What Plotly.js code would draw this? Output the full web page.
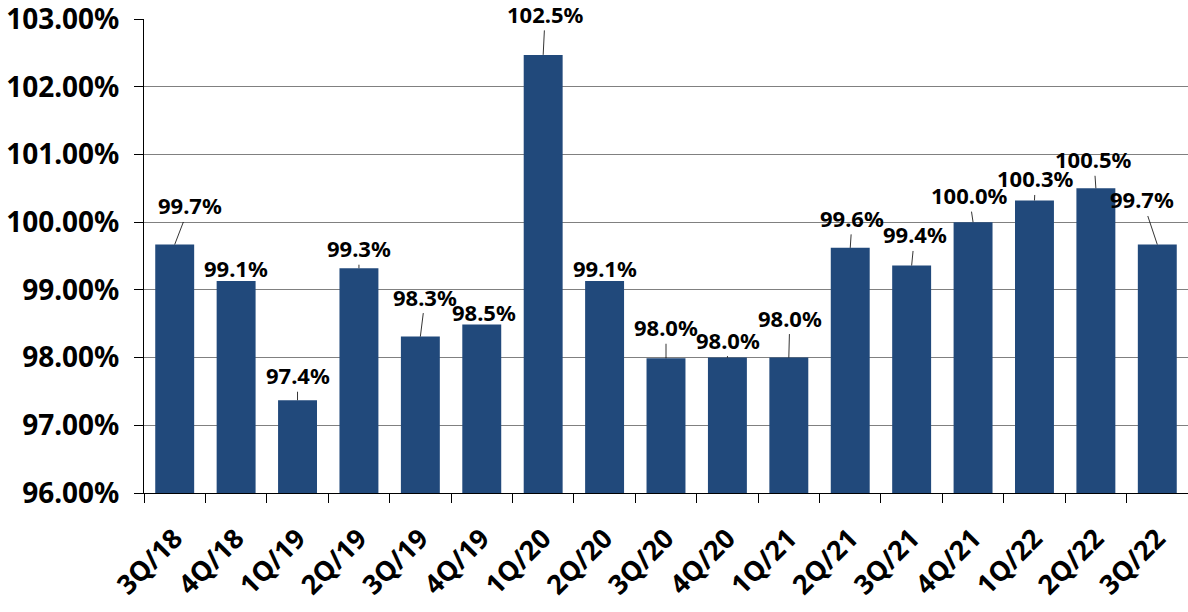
<!DOCTYPE html>
<html>
<head>
<meta charset="utf-8">
<script src="https://cdn.plot.ly/plotly-3.0.1.min.js"></script>
<style>
  html, body { margin: 0; padding: 0; background: #fff; }
  #chart { width: 1188px; height: 612px; }
</style>
</head>
<body>
<div id="chart"></div>
<script>
// quarters and ratio values (%)
var quarters = ['3Q/18', '4Q/18', '1Q/19', '2Q/19', '3Q/19', '4Q/19', '1Q/20', '2Q/20', '3Q/20',
                '4Q/20', '1Q/21', '2Q/21', '3Q/21', '4Q/21', '1Q/22', '2Q/22', '3Q/22'];
var ratios = [99.67, 99.13, 97.37, 99.32, 98.31, 98.49, 102.47, 99.13, 97.99,
              98.00, 98.00, 99.62, 99.36, 100.00, 100.32, 100.50, 99.67];

// label offsets (px) from the bar top, like the excel leader lines
var labelDx = [15, 0, 0, 0, 5, 2, 2, 0, 0, 1, 1, 2, 3, -4, 1, -2, -15];
var labelDy = [-39, -13, -25, -20, -40, -12, -41, -13, -31, -18, -40, -30, -31, -27, -22, -29, -45];

var fnt = 'Noto Sans, DejaVu Sans, sans-serif';

var data = [{
  x: quarters,
  y: ratios,
  type: 'bar',
  marker: {color: '#21497B'},
  hoverinfo: 'x+y'
}];

var notes = [];
for (var i = 0; i < quarters.length; i++) {
  notes.push({
    x: quarters[i],
    y: ratios[i],
    text: ratios[i].toFixed(1) + '%',
    showarrow: true,
    arrowhead: 0,
    arrowwidth: 0.8,
    arrowcolor: '#000',
    ax: labelDx[i],
    ay: labelDy[i],
    font: {family: fnt, size: 22, color: '#000', weight: 'bold'}
  });
}

var layout = {
  width: 1188,
  height: 612,
  margin: {l: 144, r: 0, t: 19, b: 119},
  paper_bgcolor: '#fff',
  plot_bgcolor: '#fff',
  bargap: 0.366,
  showlegend: false,
  font: {family: fnt, color: '#000'},
  xaxis: {
    type: 'category',
    showline: true,
    linecolor: '#000',
    linewidth: 1,
    ticks: 'outside',
    tickson: 'boundaries',
    ticklen: 9,
    tickcolor: '#000',
    tickangle: -45,
    ticklabelstandoff: 18,
    tickfont: {family: fnt, size: 27, color: '#000', weight: 'bold'},
    showgrid: false
  },
  yaxis: {
    range: [96, 103],
    dtick: 1,
    tickformat: '.2f',
    ticksuffix: '%',
    showline: true,
    linecolor: '#000',
    linewidth: 1,
    ticks: 'outside',
    ticklen: 9,
    tickcolor: '#000',
    ticklabelstandoff: 9,
    ticklabeloverflow: 'allow',
    showgrid: true,
    gridcolor: '#808080',
    gridwidth: 1,
    zeroline: false,
    tickfont: {family: fnt, size: 28, color: '#000', weight: 'bold'}
  },
  annotations: notes
};

Plotly.newPlot('chart', data, layout, {displayModeBar: false, showLink: false});
</script>
</body>
</html>
